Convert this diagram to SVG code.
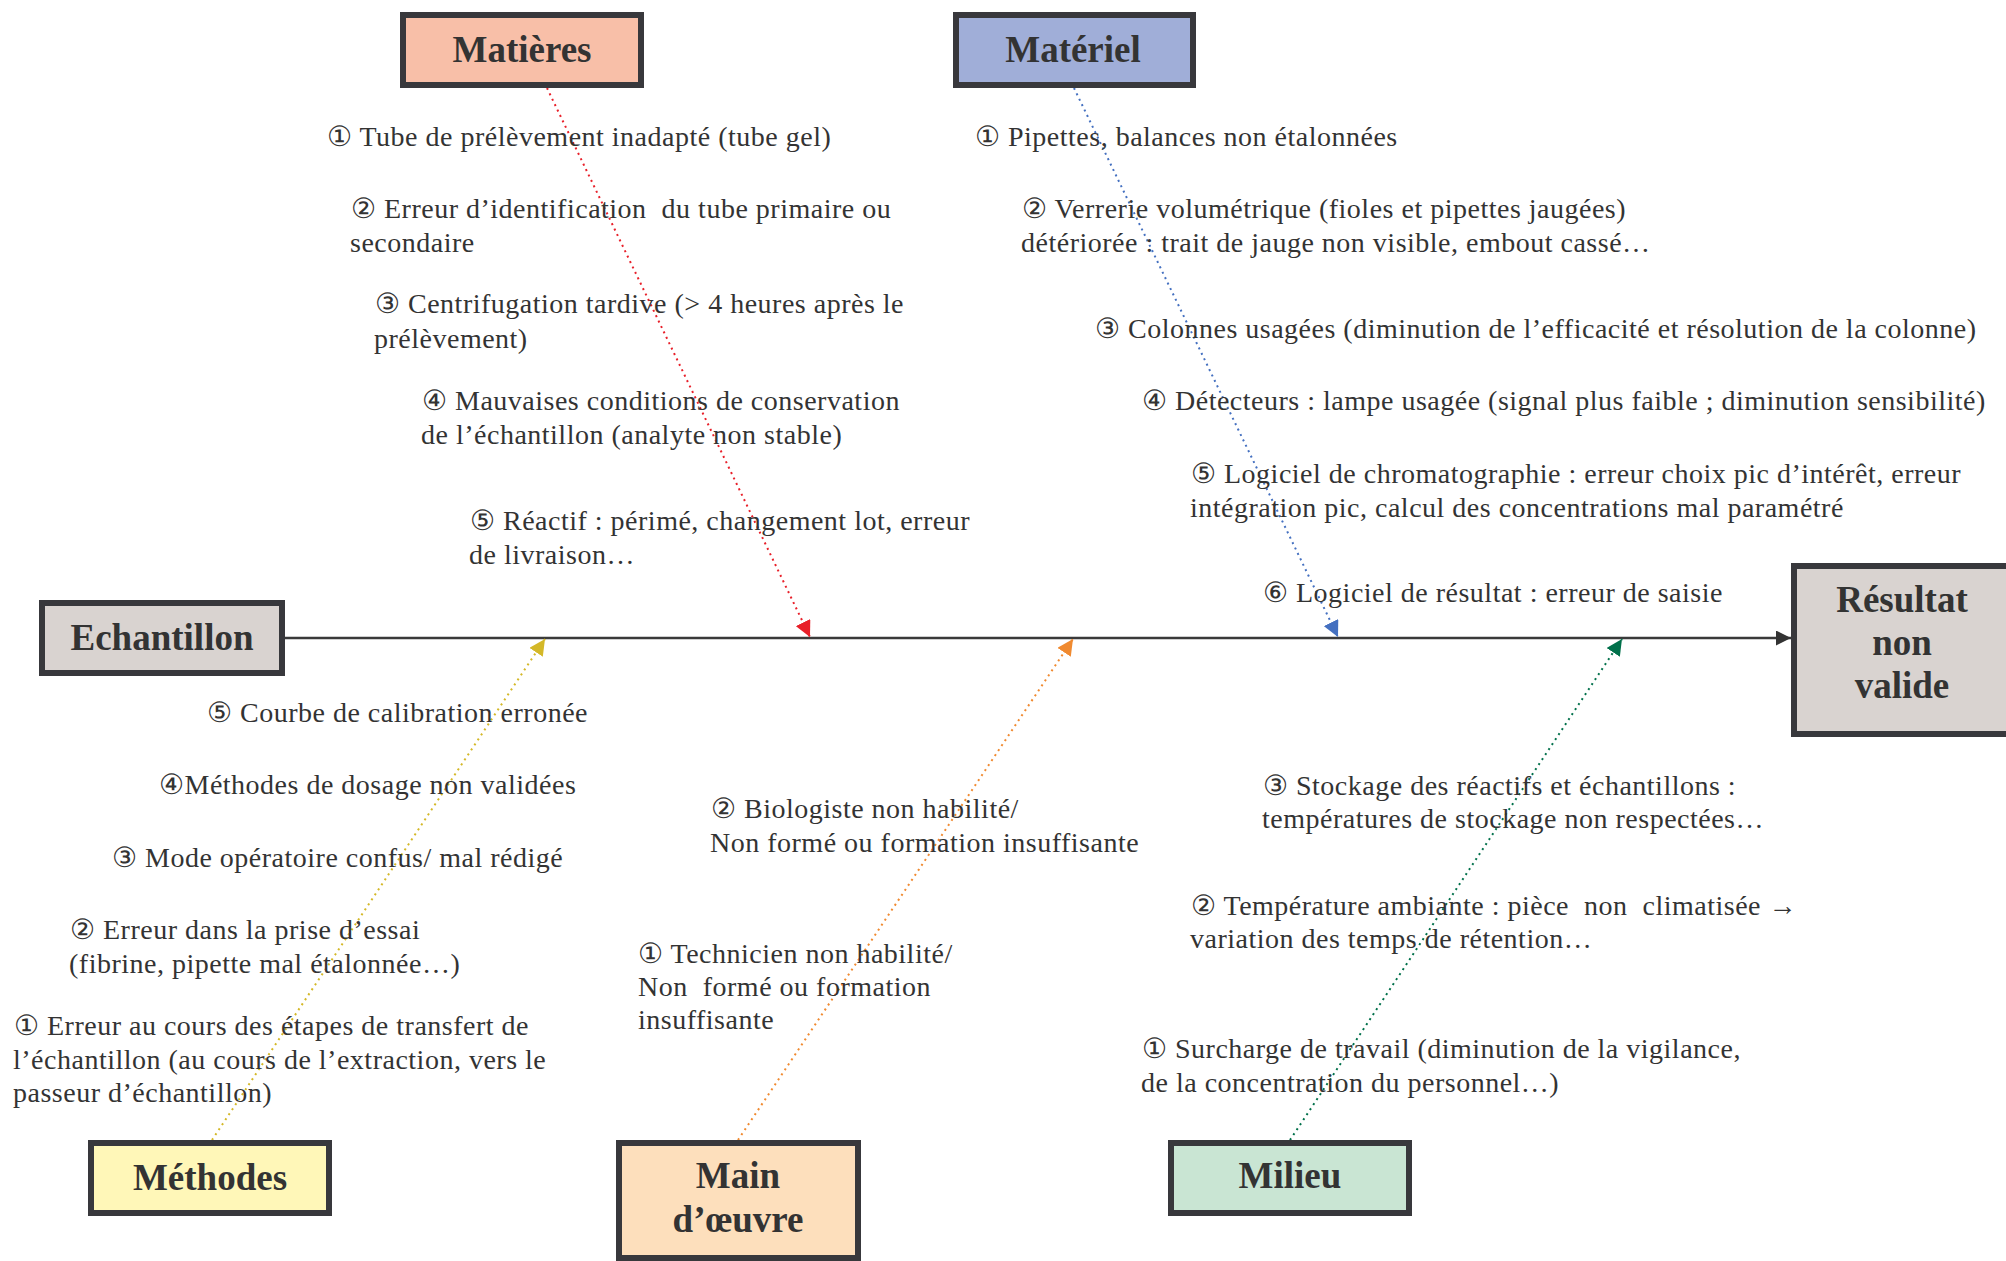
<svg xmlns="http://www.w3.org/2000/svg" width="2006" height="1261" viewBox="0 0 2006 1261">
<style>
.box{stroke:#38383c;stroke-width:6}
.title{font-family:"Liberation Serif","Times New Roman",serif;font-weight:bold;font-size:37px;fill:#333;text-anchor:middle}
.t{font-family:"Liberation Serif","Times New Roman",serif;font-size:28px;letter-spacing:0.5px;fill:#333;white-space:pre}
.dot{fill:none;stroke-width:2;stroke-dasharray:2 4}
</style>
<defs>
<marker id="ar" viewBox="0 0 16 16" refX="16" refY="8" markerWidth="16" markerHeight="16" markerUnits="userSpaceOnUse" orient="auto"><path d="M0,0 L16,8 L0,16 z" fill="#E8202A"/></marker>
<marker id="ab" viewBox="0 0 16 16" refX="16" refY="8" markerWidth="16" markerHeight="16" markerUnits="userSpaceOnUse" orient="auto"><path d="M0,0 L16,8 L0,16 z" fill="#4470C0"/></marker>
<marker id="ay" viewBox="0 0 16 16" refX="16" refY="8" markerWidth="16" markerHeight="16" markerUnits="userSpaceOnUse" orient="auto"><path d="M0,0 L16,8 L0,16 z" fill="#D4B828"/></marker>
<marker id="ao" viewBox="0 0 16 16" refX="16" refY="8" markerWidth="16" markerHeight="16" markerUnits="userSpaceOnUse" orient="auto"><path d="M0,0 L16,8 L0,16 z" fill="#F08A30"/></marker>
<marker id="ag" viewBox="0 0 16 16" refX="16" refY="8" markerWidth="16" markerHeight="16" markerUnits="userSpaceOnUse" orient="auto"><path d="M0,0 L16,8 L0,16 z" fill="#00704A"/></marker>
<marker id="ak" viewBox="0 0 16 16" refX="16" refY="8" markerWidth="15" markerHeight="15" markerUnits="userSpaceOnUse" orient="auto"><path d="M0,0 L16,8 L0,16 z" fill="#333"/></marker>
</defs>
<rect width="2006" height="1261" fill="#fff"/>

<g id="connectors">
<line x1="285" y1="638" x2="1791" y2="638" stroke="#3a3a3a" stroke-width="2.5" marker-end="url(#ak)"/>
<line class="dot" x1="547" y1="88" x2="810" y2="637" stroke="#E8202A" marker-end="url(#ar)"/>
<line class="dot" x1="1074" y1="88" x2="1338" y2="637" stroke="#4470C0" marker-end="url(#ab)"/>
<line class="dot" x1="212" y1="1140" x2="545" y2="639" stroke="#D4B828" marker-end="url(#ay)"/>
<line class="dot" x1="738" y1="1140" x2="1073" y2="639" stroke="#F08A30" marker-end="url(#ao)"/>
<line class="dot" x1="1290" y1="1140" x2="1622" y2="639" stroke="#00704A" marker-end="url(#ag)"/>
</g>

<g id="matieres">
<rect class="box" x="403" y="15" width="238" height="70" fill="#F8BFA8"/>
<text class="title" x="522" y="62">Matières</text>
</g>
<g id="materiel">
<rect class="box" x="956" y="15" width="237" height="70" fill="#A0AED8"/>
<text class="title" x="1073" y="62">Matériel</text>
</g>
<g id="echantillon">
<rect class="box" x="42" y="603" width="240" height="70" fill="#D9D3D0"/>
<text class="title" x="162" y="650">Echantillon</text>
</g>
<g id="resultat">
<rect class="box" x="1794" y="566" width="240" height="168" fill="#D9D3D0"/>
<text class="title" x="1902" y="612">Résultat</text>
<text class="title" x="1902" y="655">non</text>
<text class="title" x="1902" y="698">valide</text>
</g>
<g id="methodes">
<rect class="box" x="91" y="1143" width="238" height="70" fill="#FFF7B8"/>
<text class="title" x="210" y="1190">Méthodes</text>
</g>
<g id="main-oeuvre">
<rect class="box" x="619" y="1143" width="239" height="115" fill="#FDDFBC"/>
<text class="title" x="738" y="1188">Main</text>
<text class="title" x="738" y="1232">d’œuvre</text>
</g>
<g id="milieu">
<rect class="box" x="1171" y="1143" width="238" height="70" fill="#C9E5D3"/>
<text class="title" x="1290" y="1188">Milieu</text>
</g>

<g id="causes-matieres">
<text class="t" x="327" y="146">① Tube de prélèvement inadapté (tube gel)</text>
<text class="t" x="351" y="218">② Erreur d’identification  du tube primaire ou</text>
<text class="t" x="350" y="252">secondaire</text>
<text class="t" x="375" y="313">③ Centrifugation tardive (&gt; 4 heures après le</text>
<text class="t" x="374" y="348">prélèvement)</text>
<text class="t" x="422" y="410">④ Mauvaises conditions de conservation</text>
<text class="t" x="421" y="444">de l’échantillon (analyte non stable)</text>
<text class="t" x="470" y="530">⑤ Réactif : périmé, changement lot, erreur</text>
<text class="t" x="469" y="564">de livraison…</text>
</g>
<g id="causes-materiel">
<text class="t" x="975" y="146">① Pipettes, balances non étalonnées</text>
<text class="t" x="1022" y="218">② Verrerie volumétrique (fioles et pipettes jaugées)</text>
<text class="t" x="1021" y="252">détériorée : trait de jauge non visible, embout cassé…</text>
<text class="t" x="1095" y="338">③ Colonnes usagées (diminution de l’efficacité et résolution de la colonne)</text>
<text class="t" x="1142" y="410">④ Détecteurs : lampe usagée (signal plus faible ; diminution sensibilité)</text>
<text class="t" x="1191" y="483">⑤ Logiciel de chromatographie : erreur choix pic d’intérêt, erreur</text>
<text class="t" x="1190" y="517">intégration pic, calcul des concentrations mal paramétré</text>
<text class="t" x="1263" y="602">⑥ Logiciel de résultat : erreur de saisie</text>
</g>
<g id="causes-methodes">
<text class="t" x="207" y="722">⑤ Courbe de calibration erronée</text>
<text class="t" x="159" y="794">④Méthodes de dosage non validées</text>
<text class="t" x="112" y="867">③ Mode opératoire confus/ mal rédigé</text>
<text class="t" x="70" y="939">② Erreur dans la prise d’essai</text>
<text class="t" x="69" y="973">(fibrine, pipette mal étalonnée…)</text>
<text class="t" x="14" y="1035">① Erreur au cours des étapes de transfert de</text>
<text class="t" x="13" y="1069">l’échantillon (au cours de l’extraction, vers le</text>
<text class="t" x="13" y="1102">passeur d’échantillon)</text>
</g>
<g id="causes-main-oeuvre">
<text class="t" x="711" y="818">② Biologiste non habilité/</text>
<text class="t" x="710" y="852">Non formé ou formation insuffisante</text>
<text class="t" x="638" y="963">① Technicien non habilité/</text>
<text class="t" x="638" y="996">Non  formé ou formation</text>
<text class="t" x="638" y="1029">insuffisante</text>
</g>
<g id="causes-milieu">
<text class="t" x="1263" y="795">③ Stockage des réactifs et échantillons :</text>
<text class="t" x="1262" y="828">températures de stockage non respectées…</text>
<text class="t" x="1191" y="915">② Température ambiante : pièce  non  climatisée →</text>
<text class="t" x="1190" y="948">variation des temps de rétention…</text>
<text class="t" x="1142" y="1058">① Surcharge de travail (diminution de la vigilance,</text>
<text class="t" x="1141" y="1092">de la concentration du personnel…)</text>
</g>
</svg>
